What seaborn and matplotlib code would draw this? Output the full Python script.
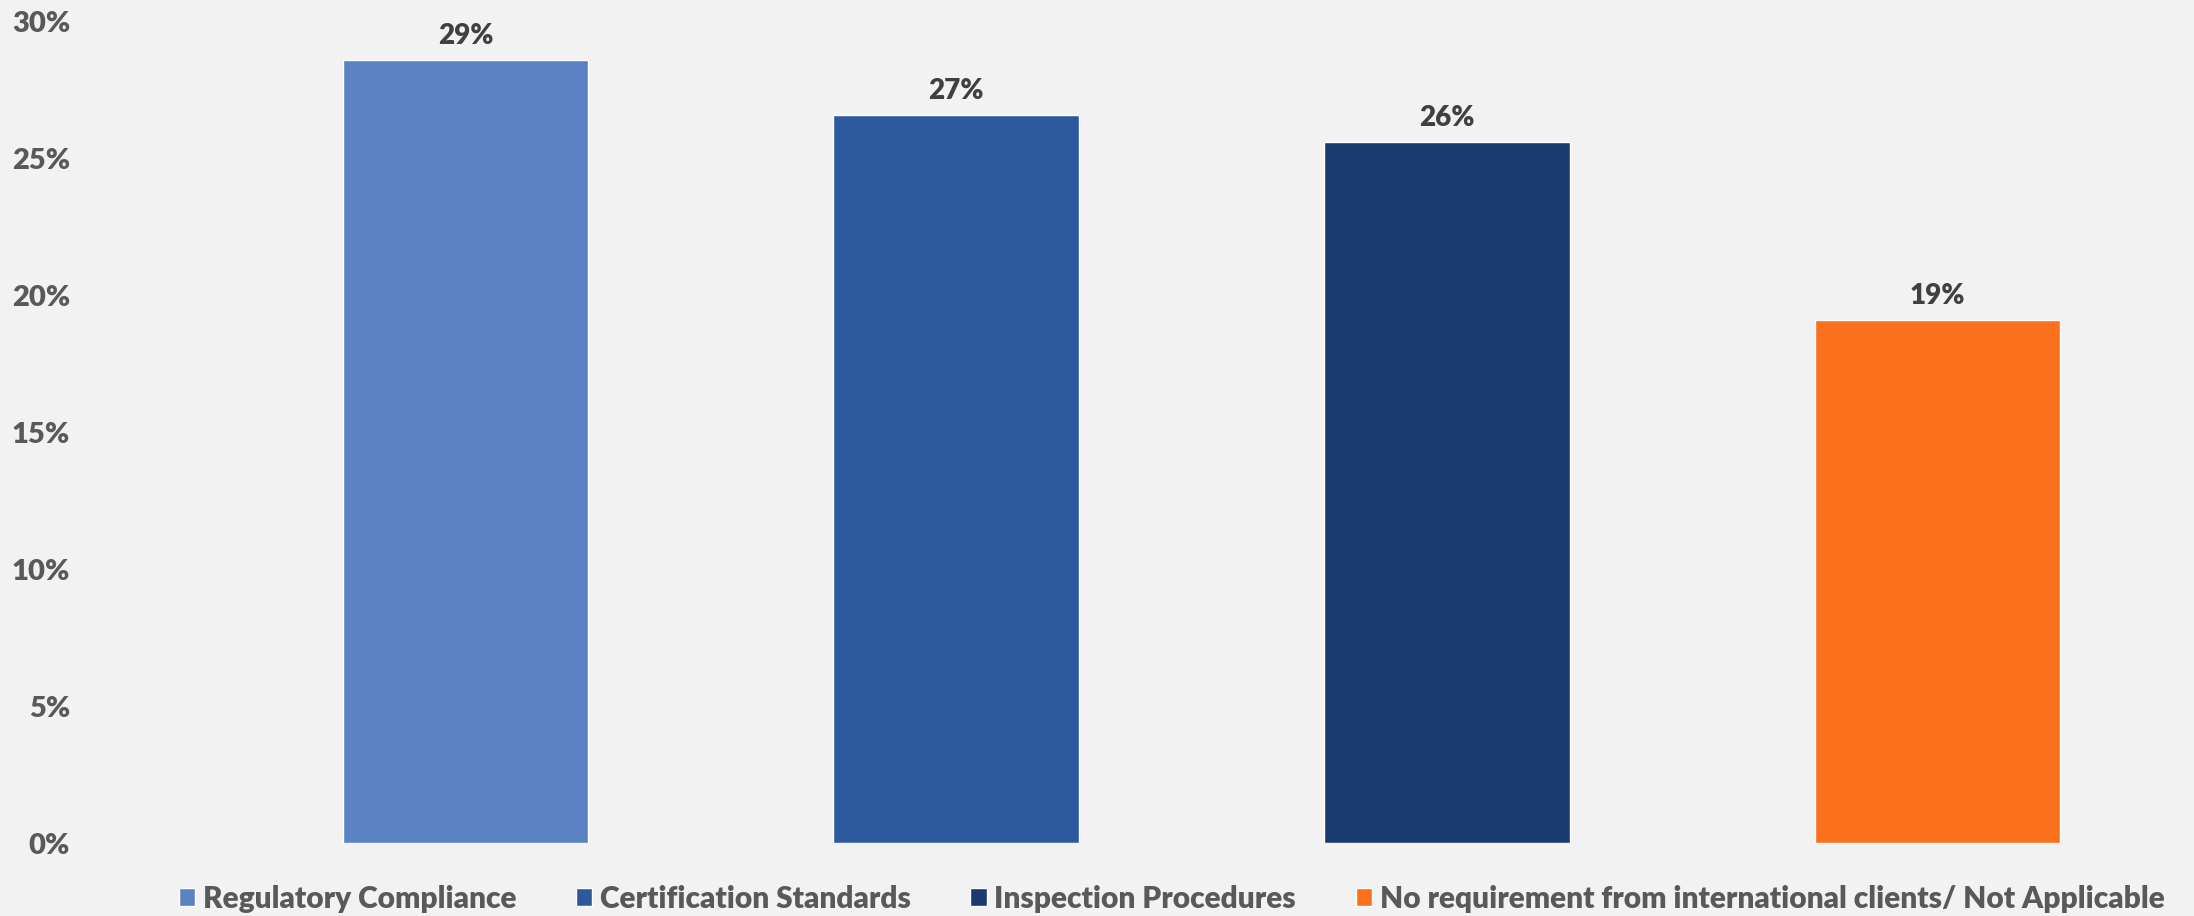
import matplotlib
matplotlib.use("Agg")
import matplotlib.pyplot as plt
import seaborn as sns
import pandas as pd
from matplotlib.ticker import PercentFormatter, MultipleLocator

# Share of respondents by main requirement from international clients
categories = [
    "Regulatory Compliance",
    "Certification Standards",
    "Inspection Procedures",
    "No requirement from international clients/ Not Applicable",
]
shares = [0.286, 0.266, 0.256, 0.191]
colors = ["#5B83C4", "#2D5A9E", "#1B3A6F", "#FA701D"]

bg = "#F2F2F2"
tick_color = "#595959"
label_color = "#404040"
weight = "heavy"

sns.set_theme(style="white")
plt.rcParams["font.family"] = ["Lato", "DejaVu Sans"]

df = pd.DataFrame({"category": categories, "share": shares})

fig = plt.figure(figsize=(21.94, 9.16), dpi=100, facecolor=bg)
ax = fig.add_axes([0.1003, 0.0792, 0.8947, 0.8968])
ax.set_facecolor(bg)

sns.barplot(
    data=df, x="category", y="share", hue="category",
    palette=colors, width=0.5, dodge=False, saturation=1,
    legend=True, ax=ax,
)

ax.set_xlim(-0.5, 3.5)
ax.set_ylim(0, 0.30)
ax.yaxis.set_major_locator(MultipleLocator(0.05))
ax.yaxis.set_major_formatter(PercentFormatter(1.0, decimals=0))
ax.set_xticks([])
ax.set_xlabel("")
ax.set_ylabel("")
ax.tick_params(axis="y", length=0, pad=108, labelsize=21, labelcolor=tick_color)
for lbl in ax.get_yticklabels():
    lbl.set_fontweight(weight)
for s in ax.spines.values():
    s.set_visible(False)

# value labels above each bar
for cont in ax.containers:
    ax.bar_label(cont, labels=[f"{v:.0%}" for v in cont.datavalues],
                 padding=8, fontsize=20, fontweight=weight, color=label_color)

handles, labels = ax.get_legend_handles_labels()
ax.get_legend().remove()
fig.legend(
    handles, labels, loc="center", bbox_to_anchor=(0.534, 0.0186),
    ncol=4, frameon=False, labelcolor=tick_color,
    handlelength=0.55, handleheight=0.55, handletextpad=0.25,
    columnspacing=2.0, prop={"weight": weight, "size": 21.5},
)

fig.savefig("out.png", dpi=100, facecolor=bg)
